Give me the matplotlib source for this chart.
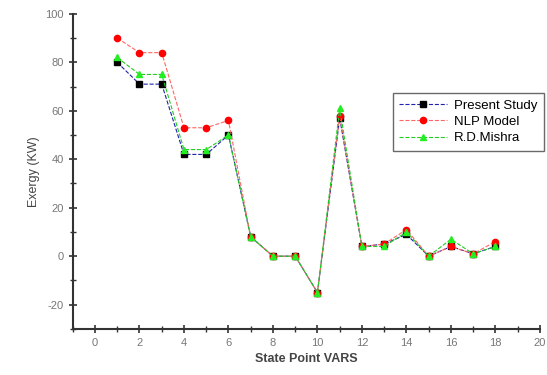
import matplotlib

matplotlib.use("Agg")
import matplotlib.pyplot as plt
from matplotlib.ticker import MultipleLocator

STATE_POINTS = list(range(1, 19))
PRESENT_STUDY = [80, 71, 71, 42, 42, 50, 8, 0, 0, -15, 57, 4, 5, 9, 0, 4, 1, 4]
NLP_MODEL = [90, 84, 84, 53, 53, 56, 8, 0, 0, -15, 58, 4, 5, 11, 0, 4, 1, 6]
RD_MISHRA = [82, 75, 75, 44, 44, 50, 8, 0, 0, -15, 61, 4, 4, 10, 0, 7, 1, 4]

SERIES = [
    ("Present Study", PRESENT_STUDY, "black", "s", "#2222aa"),
    ("NLP Model", NLP_MODEL, "red", "o", "#ff6666"),
    ("R.D.Mishra", RD_MISHRA, "#22ee22", "^", "#22cc22"),
]


def main() -> None:
    plt.rcParams.update({"font.family": "Liberation Sans", "font.size": 8,
                         "axes.unicode_minus": False})
    fig = plt.figure(figsize=(5.47, 3.75), dpi=100)
    ax = fig.add_axes([0.133, 0.123, 0.854, 0.84])

    for label, values, color, marker, line_color in SERIES:
        ax.plot(STATE_POINTS, values, color=line_color, lw=0.8, ls="--",
                marker=marker, markersize=4.5, markerfacecolor=color,
                markeredgecolor=color, label=label)

    ax.set_xlim(-1, 20)
    ax.set_ylim(-30, 100)
    ax.xaxis.set_major_locator(MultipleLocator(2))
    ax.xaxis.set_minor_locator(MultipleLocator(1))
    ax.yaxis.set_major_locator(MultipleLocator(20))
    ax.yaxis.set_minor_locator(MultipleLocator(10))
    ax.spines["top"].set_visible(False)
    ax.spines["right"].set_visible(False)
    for side in ("left", "bottom"):
        ax.spines[side].set_linewidth(1.5)
        ax.spines[side].set_color("#333333")
    ax.tick_params(which="major", direction="inout", length=6, width=1.2,
                   colors="#333333", labelcolor="#777777", labelsize=8)
    ax.tick_params(which="minor", direction="inout", length=4, width=1.0, colors="#333333")

    ax.set_xlabel("State Point VARS", fontweight="bold", fontsize=9, color="#444444")
    ax.set_ylabel("Exergy (KW)", fontsize=9, color="#444444")

    leg = ax.legend(loc="upper right", bbox_to_anchor=(1.022, 0.77), fontsize=9.5,
                    frameon=True, fancybox=False, handlelength=3.6,
                    borderpad=0.5, labelspacing=0.3, handletextpad=0.5)
    leg.get_frame().set_edgecolor("#444444")
    leg.get_frame().set_linewidth(1.0)

    fig.savefig("out.png", dpi=100, facecolor="white")
    plt.close(fig)


if __name__ == "__main__":
    main()
